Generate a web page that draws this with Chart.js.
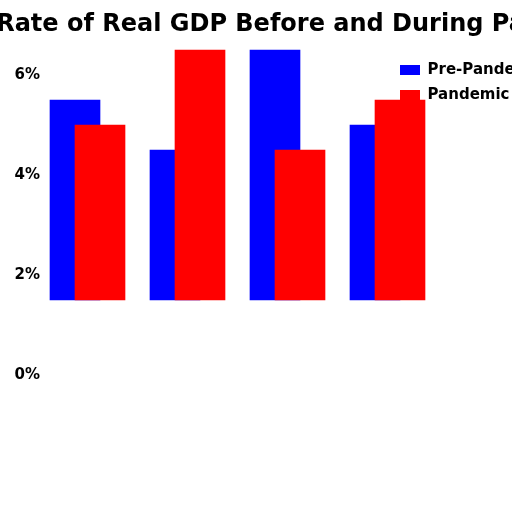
<!DOCTYPE html>
<html>

<head>
  <title>Growth Rate of Real GDP</title>
  <script src="https://cdn.jsdelivr.net/npm/chart.js"></script>

  <style>
    body {
      margin: 0;
      background-color: white;
      overflow: hidden;
      width: 512px;
      height: 512px;
    }

    .chart-container {
      position: absolute;
      left: -144px;
      top: 0;
      width: 800px;
      height: 512px;
    }
  </style>
</head>

<body>
  <div class="chart-container">
    <canvas id="gdpChart" width="800" height="512"></canvas>
  </div>

  <script>
    const chartTitle = 'Growth Rate of Real GDP Before and During Pandemic';
    const categories = ['Group 1', 'Group 2', 'Group 3', 'Group 4'];
    const seriesNames = ['Pre-Pandemic', 'Pandemic'];
    const preValues = [5.5, 4.5, 6.5, 5.0];
    const pandemicValues = [5.0, 6.5, 4.5, 5.5];
    const barBase = 1.5;
    const yTicks = [0, 2, 4, 6];

    // red bars sit a quarter step to the right of the blue ones
    const shift = 0.25;

    Chart.defaults.font.family = "'DejaVu Sans', sans-serif";
    Chart.defaults.font.weight = 'bold';
    Chart.defaults.color = '#000';

    const ctx = document.getElementById('gdpChart').getContext('2d');

    new Chart(ctx, {
      type: 'bar',
      data: {
        datasets: [
          {
            label: seriesNames[0],
            data: categories.map((c, i) => ({ x: i, y: [barBase, preValues[i]] })),
            backgroundColor: '#0000FF',
            barThickness: 50,
            grouped: false,
            order: 1,
            clip: false
          },
          {
            label: seriesNames[1],
            data: categories.map((c, i) => ({ x: i + shift, y: [barBase, pandemicValues[i]] })),
            backgroundColor: '#FF0000',
            barThickness: 50,
            grouped: false,
            order: 0,
            clip: false
          }
        ]
      },
      options: {
        responsive: false,
        animation: false,
        layout: {
          padding: { top: 0, bottom: 137, left: 0, right: 0 }
        },
        plugins: {
          title: {
            display: true,
            text: chartTitle,
            font: { size: 24, weight: 'bold' },
            padding: { top: 10, bottom: 11.2 }
          },
          legend: {
            position: 'right',
            align: 'start',
            fullSize: false,
            weight: -1,
            // tiny empty title just nudges the entries down a little
            title: {
              display: true,
              text: '',
              font: { size: 2.5, lineHeight: 1 },
              padding: 0
            },
            labels: {
              boxWidth: 20,
              boxHeight: 10,
              padding: 10,
              font: { size: 15, weight: 'bold' },
              sort: (a, b) => a.datasetIndex - b.datasetIndex
            }
          },
          tooltip: { enabled: false }
        },
        scales: {
          x: {
            type: 'linear',
            display: false,
            offset: false,
            min: -0.25,
            max: 3.15,
            grid: { display: false }
          },
          y: {
            min: 0,
            max: 6.5,
            grid: { display: false, drawTicks: false },
            border: { display: false },
            afterBuildTicks: function (scale) {
              scale.ticks = yTicks.map(v => ({ value: v }));
            },
            afterFit: function (scale) {
              scale.width = 194;
            },
            ticks: {
              padding: 10,
              font: { size: 15, weight: 'bold' },
              callback: function (value) {
                return value + '%';
              }
            }
          },
          // empty spacer on the right so the legend starts where the plot ends
          yPad: {
            position: 'right',
            weight: 1000,
            grid: { display: false, drawTicks: false },
            border: { display: false },
            ticks: { display: false },
            afterFit: function (scale) {
              const lw = scale.chart.legend ? scale.chart.legend.width : 0;
              scale.width = Math.max(0, 266 - lw);
            }
          }
        }
      }
    });
  </script>
</body>

</html>
